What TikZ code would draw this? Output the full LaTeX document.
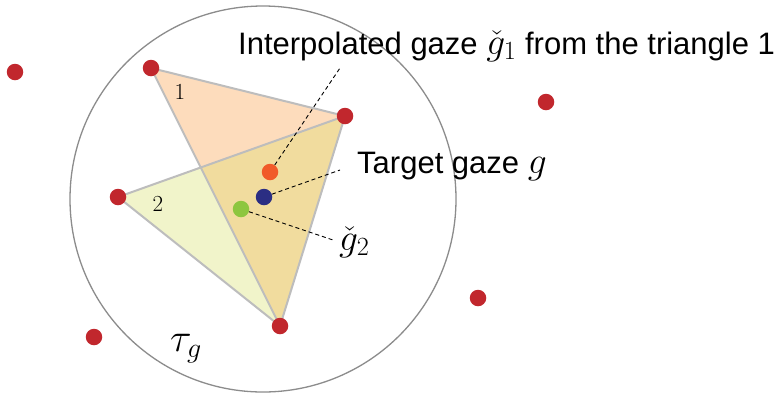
\documentclass[tikz,border=0pt]{standalone}
\usepackage{fix-cm}
\usepackage{fontspec}
\setmainfont{Liberation Sans}
\definecolor{reddot}{HTML}{C1272D}
\definecolor{orangedot}{HTML}{F15A29}
\definecolor{bluedot}{HTML}{2B2E83}
\definecolor{greendot}{HTML}{8DC63F}
\definecolor{tri1}{HTML}{FDDCBC}
\definecolor{tri2}{HTML}{F1F4CA}
\definecolor{overlap}{HTML}{F1DC9E}
\definecolor{edgegray}{HTML}{BDBDBD}
\definecolor{ringgray}{HTML}{8C8C8C}
\newcommand{\bigmath}[1]{{\fontsize{37.5}{40}\selectfont$#1$}}
\begin{document}
\begin{tikzpicture}[x=1pt,y=-1pt,
  dot/.style={circle,fill=#1,inner sep=0pt,minimum size=16.5pt},
  leader/.style={draw=black,dash pattern=on 4pt off 3pt,line width=0.9pt},
  edgeline/.style={draw=edgegray,line width=2pt,line join=round},
  lbl/.style={font=\fontsize{31}{34}\selectfont,inner sep=0pt,anchor=base west},
  num/.style={font=\fontsize{23}{26}\selectfont,inner sep=0pt}]
\useasboundingbox (0,0) rectangle (783,392);
\fill[white] (0,0) rectangle (783,392);
\coordinate (A) at (151,68);
\coordinate (B) at (345,116);
\coordinate (C) at (280,326);
\coordinate (D) at (118,197);
\fill[tri1] (A)--(B)--(C)--cycle;
\fill[tri2] (D)--(B)--(C)--cycle;
\begin{scope}
  \clip (A)--(B)--(C)--cycle;
  \fill[overlap] (D)--(B)--(C)--cycle;
\end{scope}
\draw[edgeline] (A)--(B)--(C)--cycle;
\draw[edgeline] (D)--(B) (D)--(C);
\node[circle,draw=ringgray,line width=1.3pt,minimum size=386pt,inner sep=0pt] (ring) at (263,199) {};
\node[num] (n1) at (180,92) {$1$};
\node[num] (n2) at (158,204) {$2$};
% vertex dots
\node[dot=reddot] (pA) at (A) {};
\node[dot=reddot] (pB) at (B) {};
\node[dot=reddot] (pC) at (C) {};
\node[dot=reddot] (pD) at (D) {};
% outer dots
\node[dot=reddot] (p1) at (15,72) {};
\node[dot=reddot] (p2) at (546,102) {};
\node[dot=reddot] (p3) at (478,298) {};
\node[dot=reddot] (p4) at (94,337) {};
% gaze dots
\node[dot=orangedot] (go) at (270,172) {};
\node[dot=bluedot] (gb) at (264,197) {};
\node[dot=greendot] (gg) at (241,209) {};
% leader ends
\coordinate (lo) at (340,68);
\coordinate (lb) at (340,170);
\coordinate (lg) at (333,240);
\draw[leader] (go) -- (lo);
\draw[leader] (gb) -- (lb);
\draw[leader] (gg) -- (lg);
% labels
\node[lbl] (t1) at (238,54) {Interpolated gaze \bigmath{\check{g}_1} from the triangle 1};
\node[lbl] (t2) at (357,173) {Target gaze \bigmath{g}};
\node[lbl] (t3) at (339,250) {\bigmath{\check{g}_2}};
\node[lbl,font=\fontsize{40}{44}\selectfont] (tau) at (170,351) {$\tau_g$};
\end{tikzpicture}
\end{document}
